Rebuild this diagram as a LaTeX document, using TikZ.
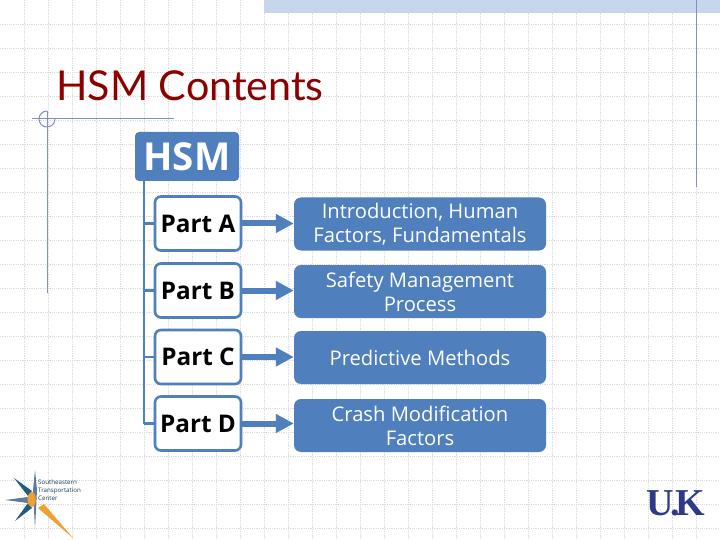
\documentclass[tikz,border=0pt]{standalone}
\usepackage{xcolor}
\usepackage{fontspec}
\setmainfont{Open Sans}
\newfontfamily\titlefont{Lato}
\newfontfamily\logofont{Liberation Serif}
\usetikzlibrary{arrows.meta}
\definecolor{hsmblue}{HTML}{4F7FBC}
\definecolor{framegray}{HTML}{7F8FBE}
\definecolor{logonavy}{HTML}{2F3A86}
\definecolor{logoteal}{HTML}{1F5C80}
\definecolor{logoslate}{HTML}{5F7A9A}
\definecolor{logoorange}{HTML}{F0A030}
\tikzset{
	headbox/.style={
		fill=hsmblue,
		rounded corners=4,
		inner sep=0,
		minimum width=104,
		minimum height=49,
		text=white,
		font=\bfseries\fontsize{38.5}{38.5}\selectfont
	},
	partbox/.style={
		draw=hsmblue,
		fill=white,
		line width=2.6,
		rounded corners=6,
		inner sep=0,
		minimum width=86,
		minimum height=54,
		font=\fontsize{24.3}{24.3}\selectfont\bfseries
	},
	infobox/.style={
		fill=hsmblue,
		rounded corners=7,
		inner sep=0,
		align=center,
		minimum width=252,
		minimum height=53,
		text=white,
		font=\fontsize{20.2}{24}\selectfont
	},
	branch/.style={hsmblue,line width=2.6},
	partarrow/.style={hsmblue,line width=6,-{Triangle[width=18,length=18]}}
}

\begin{document}
\begin{tikzpicture}[x=1pt,y=-1pt]
	\useasboundingbox (0,0) rectangle (720,540);
	\fill[white] (0,0) rectangle (720,540);

	% slide background
	\foreach \gridx in {24,48,...,696}
		\draw[black!14,densely dotted,line width=0.8] (\gridx,0) -- (\gridx,540);
	\foreach \gridy in {24,48,...,528}
		\draw[black!14,densely dotted,line width=0.8] (0,\gridy) -- (720,\gridy);
	\fill[hsmblue!32] (264,0) rectangle (720,13);
	\draw[framegray,line width=1] (32,119) -- (174,119);
	\draw[framegray,line width=1] (47,111) -- (47,293);
	\draw[framegray,line width=1] (47,127) arc (90:270:8);
	\draw[framegray,line width=1] (47,127) arc (90:0:8);
	\draw[framegray,line width=1] (696,0) -- (696,187);

	\node[anchor=base west,inner sep=0,text=red!55!black,font=\titlefont\fontsize{41.2}{41.2}\selectfont] (title) at (56,101) {HSM Contents};

	% tree
	\node[headbox] (hsm) at (187,156.5) {HSM};
	\node[partbox] (parta) at (198,223.5) {Part A};
	\node[partbox] (partb) at (198,290.5) {Part B};
	\node[partbox] (partc) at (198,357) {Part C};
	\node[partbox] (partd) at (198,423.5) {Part D};
	\node[infobox] (intro) at (420,224) {Introduction, Human\\Factors, Fundamentals};
	\node[infobox] (safety) at (420,291.5) {Safety Management\\Process};
	\node[infobox] (predict) at (420,357.5) {Predictive Methods};
	\node[infobox] (crash) at (420,425.5) {Crash Modification\\Factors};

	\coordinate (trunktop) at (hsm.south -| 144,0);
	\coordinate (trunkend) at (144,423.5);
	\draw[branch] (trunktop) -- (trunkend);
	\foreach \partname/\infoname in {parta/intro,partb/safety,partc/predict,partd/crash} {
		\draw[branch] (trunktop |- \partname.west) -- (\partname.west);
		\draw[partarrow] (\partname.east) -- (\partname.east -| \infoname.west);
	}

	% transportation center logo
	\fill[logoslate] (35,470) -- (37,490) -- (35,529) -- (33,490) -- cycle;
	\fill[logoslate] (5,500) -- (28,497) -- (28,503) -- cycle;
	\fill[logoteal] (14,478) -- (32,491) -- (28,496) -- cycle;
	\fill[logoteal] (15,521) -- (28,503) -- (32,508) -- cycle;
	\fill[logoorange] (32,492) .. controls (26,493) and (26,506) .. (32,507) .. controls (37,506) and (37,493) .. (32,492) -- cycle;
	\fill[logoorange] (38,508) -- (44,504) -- (73,538) -- cycle;
	\node[anchor=west,inner sep=0,align=left,text=logoteal!70!black,font=\fontsize{6.2}{8.3}\selectfont] (center) at (38,490) {Southeastern\\Transportation\\Center};

	% university logo
	\node[inner sep=0,text=logonavy,font=\logofont\bfseries\fontsize{38}{38}\selectfont] (uk) at (676,503) {U\kern-4pt.\kern-4pt K};
\end{tikzpicture}
\end{document}
